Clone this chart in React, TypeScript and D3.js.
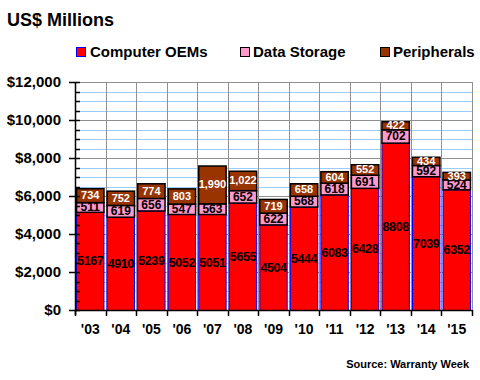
import React from "react";
import * as d3 from "d3";

const years = ["'03", "'04", "'05", "'06", "'07", "'08", "'09", "'10", "'11", "'12", "'13", "'14", "'15"];
const computerOEMs = [5167, 4910, 5239, 5052, 5051, 5655, 4504, 5444, 6083, 6428, 8808, 7039, 6352];
const dataStorage = [511, 619, 656, 547, 563, 652, 622, 568, 618, 691, 702, 592, 524];
const peripherals = [734, 752, 774, 803, 1990, 1022, 719, 658, 604, 552, 422, 434, 393];
const seriesNames = ["Computer OEMs", "Data Storage", "Peripherals"];
const seriesColors = ["#FF0000", "#FF99CC", "#993300"];
const yTicks = [0, 2000, 4000, 6000, 8000, 10000, 12000];

const FONT = "Arial, 'Liberation Sans', sans-serif";

export default function App() {
  const W = 480, H = 380;
  const left = 75, right = 472, top = 82, bottom = 310;
  const x = d3.scaleBand<string>().domain(years).range([left, right]).paddingInner(0.07).paddingOuter(0.035);
  const step = (right - left) / years.length;
  const y = d3.scaleLinear().domain([0, 12000]).range([bottom, top]);
  const minor = d3.range(0, 12001, 500);

  const rows = years.map((yr, i) => ({ yr, a: computerOEMs[i], b: dataStorage[i], c: peripherals[i] }));
  const stack = d3.stack<any>().keys(["a", "b", "c"])(rows);
  const fmt = d3.format(",");

  return (
    <svg width={W} height={H} style={{ position: "absolute", left: 0, top: 0, background: "#fff" }} fontFamily={FONT}>
      <rect x={0} y={0} width={W} height={H} fill="#fff" />
      <text x={7} y={26} fontSize={18} fontWeight="bold">US$ Millions</text>
      {/* legend */}
      {[
        { x: 76, tx: 90 },
        { x: 240, tx: 253 },
        { x: 380, tx: 393 },
      ].map((p, i) => (
        <g key={i}>
          <rect x={p.x + 0.5} y={47.5} width={9} height={9} fill={seriesColors[i]} stroke={i === 0 ? "#0000FF" : "#000"} strokeWidth={1} />
          <text x={p.tx} y={57} fontSize={15} fontWeight="bold">{seriesNames[i]}</text>
        </g>
      ))}
      {/* grid */}
      {minor.map((v) => (
        <line key={"g" + v} x1={left} x2={right} y1={Math.round(y(v)) + 0.5} y2={Math.round(y(v)) + 0.5}
          stroke={v % 2000 === 0 ? "#909090" : "#99CCFF"} strokeWidth={1} />
      ))}
      {years.map((yr, i) => (
        <line key={"v" + i} x1={Math.round(left + step * (i + 1)) + 0.5} x2={Math.round(left + step * (i + 1)) + 0.5} y1={top} y2={bottom}
          stroke="#909090" strokeWidth={1} />
      ))}
      {/* bars */}
      {stack.map((s, si) =>
        s.map((d: any, i: number) => {
          const x0 = x(years[i])!;
          const y0 = y(d[1]);
          const h = y(d[0]) - y(d[1]);
          return (
            <rect key={si + "-" + i} x={x0 + 0.5} y={y0 + 0.5} width={x.bandwidth() - 1} height={h}
              fill={seriesColors[si]} stroke={si === 0 ? "#0000FF" : "#000"} strokeWidth={si === 0 ? 1 : 1.5} />
          );
        })
      )}
      {/* labels */}
      {stack.map((s, si) =>
        s.map((d: any, i: number) => {
          const cx = x(years[i])! + x.bandwidth() / 2;
          const cy = (y(d[0]) + y(d[1])) / 2;
          const val = d[1] - d[0];
          return (
            <text key={"l" + si + "-" + i} x={cx} y={cy} dy="0.36em" textAnchor="middle"
              fontSize={si === 0 ? 12.5 : si === 1 ? 12 : 11} letterSpacing={si === 0 ? -0.4 : 0}
              fontWeight="bold" fill={si === 2 ? "#fff" : "#000"}>
              {si === 0 ? String(val) : fmt(val)}
            </text>
          );
        })
      )}
      {/* y axis */}
      <line x1={left + 0.5} x2={left + 0.5} y1={top} y2={bottom + 5} stroke="#000" strokeWidth={1.5} />
      {minor.map((v) => (
        <line key={"t" + v} x1={v % 2000 === 0 ? left - 6 : left} x2={left + 5} y1={Math.round(y(v)) + 0.5} y2={Math.round(y(v)) + 0.5}
          stroke="#000" strokeWidth={1.5} />
      ))}
      {yTicks.map((v) => (
        <text key={"yl" + v} x={61} y={y(v)} dy="0.36em" textAnchor="end" fontSize={15} fontWeight="bold">
          {"$" + fmt(v)}
        </text>
      ))}
      {/* x axis */}
      <line x1={left} x2={right} y1={bottom + 0.5} y2={bottom + 0.5} stroke="#000" strokeWidth={1.5} />
      {d3.range(years.length + 1).map((i) => (
        <line key={"xt" + i} x1={Math.round(left + step * i) + 0.5} x2={Math.round(left + step * i) + 0.5} y1={bottom} y2={bottom + 6}
          stroke="#000" strokeWidth={1.5} />
      ))}
      {years.map((yr) => (
        <text key={"xl" + yr} x={x(yr)! + x.bandwidth() / 2} y={334} textAnchor="middle" fontSize={14} fontWeight="bold">{yr}</text>
      ))}
      <text x={469} y={368} textAnchor="end" fontSize={11} fontWeight="bold">Source: Warranty Week</text>
    </svg>
  );
}
